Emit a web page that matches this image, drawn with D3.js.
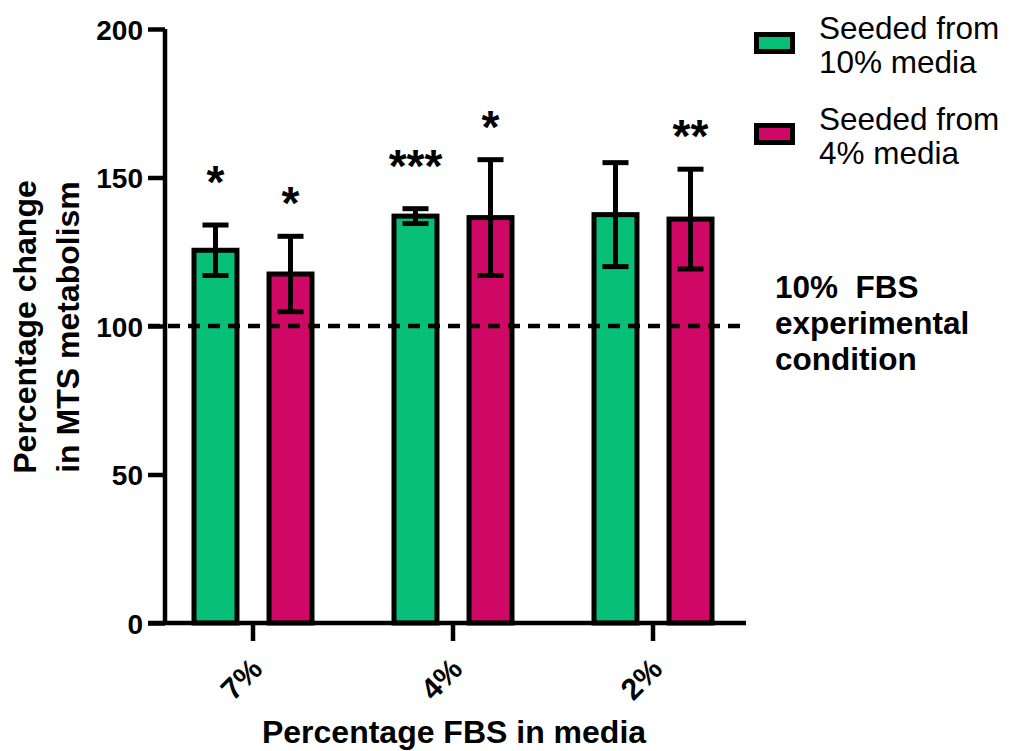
<!DOCTYPE html>
<meta charset="utf-8">
<script src="https://d3js.org/d3.v7.min.js"></script>
<style>
  body { margin: 0; background: #fff; }
  text { font-family: "Liberation Sans", Arial, sans-serif; fill: #000; }
</style>
<div id="vis"></div>
<script>
  var width = 1009, height = 751

  // data
  var categories = ["7%", "4%", "2%"]
  var seriesNames = ["Seeded from 10% media", "Seeded from 4% media"]
  var seriesColors = ["#08BF78", "#CF0865"]
  var means10 = [125.5, 137, 137.5]
  var errs10 = [8.5, 2.5, 17.5]
  var stars10 = ["*", "***", ""]
  var means4 = [117.5, 136.5, 136]
  var errs4 = [12.7, 19.5, 16.8]
  var stars4 = ["*", "*", "**"]
  var yTicks = [0, 50, 100, 150, 200]
  var refValue = 100

  var rows = []
  categories.forEach(function (c, i) {
    rows.push({cat: c, s: 0, mean: means10[i], err: errs10[i], star: stars10[i]})
    rows.push({cat: c, s: 1, mean: means4[i], err: errs4[i], star: stars4[i]})
  })

  var svg = d3.select("#vis").append("svg")
    .attr("width", width).attr("height", height)

  var x0 = d3.scaleBand().domain(categories).range([153, 753])
  var x1 = d3.scaleBand().domain([0, 1]).range([-59, 59]).paddingInner(0.427)
  var y = d3.scaleLinear().domain([0, 200]).range([623, 29])

  function cx(d) { return x0(d.cat) + x0.bandwidth() / 2 + x1(d.s) + x1.bandwidth() / 2 }

  // bars
  svg.append("g").selectAll("rect").data(rows).enter().append("rect")
    .attr("x", function (d) { return cx(d) - x1.bandwidth() / 2 })
    .attr("y", function (d) { return y(d.mean) })
    .attr("width", x1.bandwidth())
    .attr("height", function (d) { return y(0) - y(d.mean) })
    .attr("fill", function (d) { return seriesColors[d.s] })
    .attr("stroke", "#000").attr("stroke-width", 5)

  // error bars
  var eb = svg.append("g").attr("stroke", "#000").attr("stroke-width", 5)
  rows.forEach(function (d) {
    var c = cx(d)
    eb.append("line").attr("x1", c).attr("x2", c)
      .attr("y1", y(d.mean + d.err)).attr("y2", y(d.mean - d.err))
    eb.append("line").attr("x1", c - 13).attr("x2", c + 13)
      .attr("y1", y(d.mean + d.err)).attr("y2", y(d.mean + d.err))
    eb.append("line").attr("x1", c - 13).attr("x2", c + 13)
      .attr("y1", y(d.mean - d.err)).attr("y2", y(d.mean - d.err))
  })

  // significance stars
  var starOffset = [27, 17]
  svg.append("g").selectAll("text").data(rows).enter().append("text")
    .attr("x", function (d) { return cx(d) })
    .attr("y", function (d) { return y(d.mean + d.err) - starOffset[d.s] })
    .attr("text-anchor", "middle")
    .style("font-size", "46px").style("font-weight", "bold")
    .text(function (d) { return d.star })

  // reference dashed line
  svg.append("line")
    .attr("x1", 148).attr("x2", 746)
    .attr("y1", y(refValue)).attr("y2", y(refValue))
    .attr("stroke", "#000").attr("stroke-width", 4.5)
    .attr("stroke-dasharray", "12,8")

  // y axis
  var yAxis = svg.append("g")
    .attr("transform", "translate(165,0)")
    .call(d3.axisLeft(y).tickValues(yTicks).tickSize(17).tickPadding(5))
  yAxis.select(".domain").attr("stroke-width", 4.5).attr("d", "M0," + y(200) + "V" + y(0))
  yAxis.selectAll(".tick line").attr("stroke-width", 4.5)
  yAxis.selectAll(".tick text")
    .style("font-size", "28px").style("font-weight", "bold")
    .attr("font-family", null).attr("dy", "0.36em")

  // x axis
  var xAxis = svg.append("g")
    .attr("transform", "translate(0," + y(0) + ")")
    .call(d3.axisBottom(x0).tickSize(18).tickFormat(""))
  xAxis.select(".domain").attr("stroke-width", 4.5).attr("d", "M148,0H746")
  xAxis.selectAll(".tick line").attr("stroke-width", 4.5)

  svg.append("g").selectAll("text").data(categories).enter().append("text")
    .attr("transform", function (c) {
      return "translate(" + (x0(c) + x0.bandwidth() / 2 + 11) + ",671) rotate(-45)"
    })
    .attr("text-anchor", "end")
    .style("font-size", "30px").style("font-weight", "bold")
    .text(function (c) { return c })

  // axis titles
  svg.append("text")
    .attr("x", 454).attr("y", 743)
    .attr("text-anchor", "middle")
    .style("font-size", "32px").style("font-weight", "bold")
    .text("Percentage FBS in media")

  var yt = svg.append("text")
    .attr("transform", "translate(0,327) rotate(-90)")
    .attr("text-anchor", "middle")
    .style("font-size", "32px").style("font-weight", "bold")
  yt.append("tspan").attr("x", 0).attr("y", 36).text("Percentage change")
  yt.append("tspan").attr("x", 0).attr("y", 79).text("in MTS metabolism")

  // reference label
  var rl = svg.append("text")
    .style("font-size", "31.5px").style("font-weight", "bold")
    .style("white-space", "pre")
  rl.append("tspan").attr("x", 775).attr("y", 298).text("10%  FBS")
  rl.append("tspan").attr("x", 775).attr("y", 334).text("experimental")
  rl.append("tspan").attr("x", 775).attr("y", 370).text("condition")

  // legend
  var legendTop = [34.5, 125.5]
  seriesNames.forEach(function (name, i) {
    var g = svg.append("g")
    g.append("rect")
      .attr("x", 756.5).attr("y", legendTop[i])
      .attr("width", 36).attr("height", 17)
      .attr("fill", seriesColors[i])
      .attr("stroke", "#000").attr("stroke-width", 5)
    var words = name.split(" ")
    var t = g.append("text").style("font-size", "31.5px")
    t.append("tspan").attr("x", 819).attr("y", legendTop[i] + 4).text(words.slice(0, 2).join(" "))
    t.append("tspan").attr("x", 819).attr("y", legendTop[i] + 38).text(words.slice(2).join(" "))
  })
</script>
